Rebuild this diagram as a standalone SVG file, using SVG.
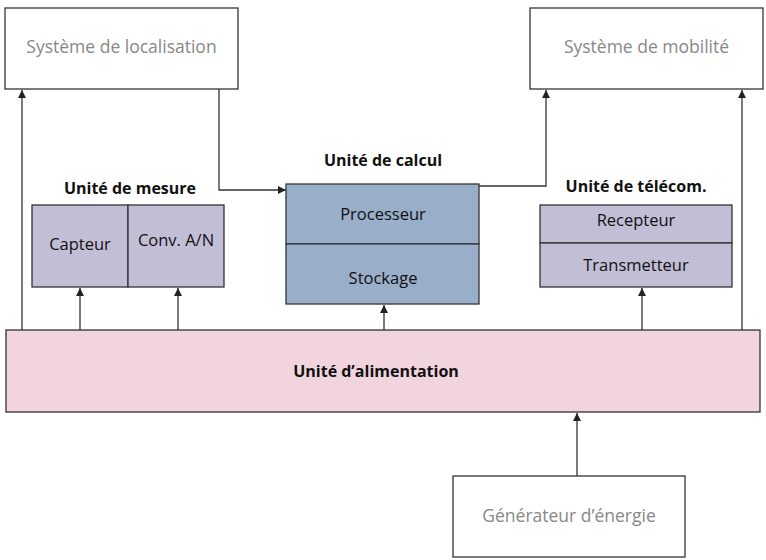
<svg xmlns="http://www.w3.org/2000/svg" width="766" height="560" viewBox="0 0 766 560">
<defs>
<marker id="ah" viewBox="0 0 10 10" refX="10" refY="5" markerWidth="8" markerHeight="8" markerUnits="userSpaceOnUse" orient="auto">
<path d="M0,0 L10,5 L0,10 z" fill="#222"/>
</marker>
<style>
.box{stroke:#333;stroke-width:1.3}
.ext{fill:#fff}
.sub{fill:#c1bed6}
.cpu{fill:#98aec9}
.pow{fill:#f1d4de}
.t{font-family:"Open Sans","Liberation Sans",Arial,sans-serif;font-size:16.5px;text-anchor:middle;fill:#111}
.g{fill:#888;font-size:17.5px}
.b{font-weight:bold;font-size:16px}
.c{fill:none;stroke:#333;stroke-width:1.3;marker-end:url(#ah)}
</style>
</defs>
<rect width="766" height="560" fill="#fff"/>
<g id="connectors">
<path class="c" d="M22,330 V90"/>
<path class="c" d="M219,89 V190 H286"/>
<path class="c" d="M479,186 H546 V90"/>
<path class="c" d="M742,330 V90"/>
<path class="c" d="M80,330 V288"/>
<path class="c" d="M178,330 V288"/>
<path class="c" d="M384,330 V305"/>
<path class="c" d="M642,330 V288"/>
<path class="c" d="M577,476 V413"/>
</g>
<g id="localisation">
<rect class="box ext" x="5" y="8" width="233" height="81"/>
<text class="t g" x="121.5" y="53">Système de localisation</text>
</g>
<g id="mobilite">
<rect class="box ext" x="530" y="8" width="233" height="81"/>
<text class="t g" x="646.5" y="53">Système de mobilité</text>
</g>
<g id="mesure">
<text class="t b" x="130" y="194">Unité de mesure</text>
<rect class="box sub" x="32" y="205" width="96" height="82"/>
<rect class="box sub" x="128" y="205" width="96" height="82"/>
<text class="t" x="80" y="250">Capteur</text>
<text class="t" x="176" y="246">Conv. A/N</text>
</g>
<g id="calcul">
<text class="t b" x="383" y="166">Unité de calcul</text>
<rect class="box cpu" x="286" y="184" width="193" height="60"/>
<rect class="box cpu" x="286" y="244" width="193" height="60"/>
<text class="t" x="383" y="220">Processeur</text>
<text class="t" x="383" y="284">Stockage</text>
</g>
<g id="telecom">
<text class="t b" x="636" y="192">Unité de télécom.</text>
<rect class="box sub" x="540" y="205" width="192" height="38"/>
<rect class="box sub" x="540" y="243" width="192" height="44"/>
<text class="t" x="636" y="226">Recepteur</text>
<text class="t" x="636" y="271">Transmetteur</text>
</g>
<g id="alimentation">
<rect class="box pow" x="6" y="330" width="754" height="82"/>
<text class="t b" x="376" y="377">Unité d’alimentation</text>
</g>
<g id="generateur">
<rect class="box ext" x="453" y="476" width="232" height="81"/>
<text class="t g" x="569" y="522">Générateur d’énergie</text>
</g>
</svg>
